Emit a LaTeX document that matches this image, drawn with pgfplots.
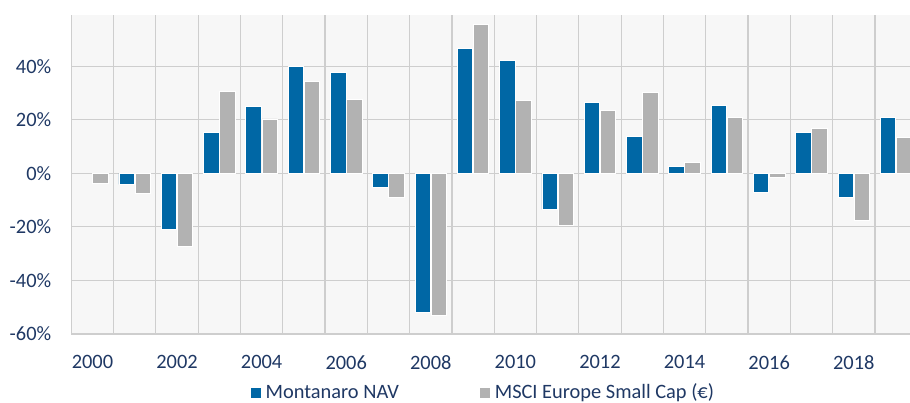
\documentclass[border=0pt]{standalone}
\usepackage{pgfplots}
\pgfplotsset{compat=1.18}
\usepackage{fontspec}
\setmainfont{Carlito}
\definecolor{navblue}{RGB}{0,103,165}
\definecolor{mscigrey}{RGB}{178,178,178}
\definecolor{txt}{RGB}{31,56,100}
\definecolor{bg}{RGB}{247,247,247}
\definecolor{gridc}{RGB}{206,206,206}
\begin{document}
\begin{tikzpicture}
\path[use as bounding box] (0,0) rectangle (455pt,201pt);
\clip (0,0) rectangle (455pt,201pt);
\begin{axis}[
  at={(35.65pt,34pt)}, anchor=south west,
  scale only axis, width=419.35pt, height=159.5pt,
  xmin=1999.5, xmax=2019.33, ymin=-60, ymax=59.1,
  axis background/.style={fill=bg},
  axis x line*=bottom, axis y line*=left,
  axis line style={gridc, line width=0.6pt},
  xtick={2000,2002,...,2018},
  xticklabels={2000,2002,2004,2006,2008,2010,2012,2014,2016,2018},
  minor xtick={1999.5,2000.5,...,2019.5},
  xminorgrids=true,
  ytick={-60,-40,-20,0,20,40},
  yticklabels={-60\%,-40\%,-20\%,0\%,20\%,40\%},
  ymajorgrids=true,
  major tick length=0pt, minor tick length=0pt,
  grid style={gridc, line width=0.6pt},
  minor grid style={gridc, line width=0.6pt},
  tick label style={font=\fontsize{10.2}{12}\selectfont, text=txt},
  yticklabel style={xshift=-6.5pt},
  xticklabel style={yshift=-7.2pt},
  ybar, bar width=0.365,
  legend columns=2,
  legend style={at={(0.492,-0.185)}, anchor=center, draw=none, fill=none,
    font=\fontsize{10.2}{12}\selectfont, text=txt,
    /tikz/every even column/.append style={column sep=38pt}},
  legend image code/.code={\fill[#1] (0pt,-2.75pt) rectangle (5.5pt,2.75pt);},
]
\addplot[fill=navblue, draw=white, line width=0.4pt, bar shift=-0.19] coordinates {
(2001,-4.1) (2002,-20.8) (2003,15.3) (2004,25.0) (2005,39.9) (2006,37.7)
(2007,-5.2) (2008,-52.0) (2009,46.6) (2010,42.1) (2011,-13.5) (2012,26.5)
(2013,13.7) (2014,2.6) (2015,25.4) (2016,-7.1) (2017,15.2) (2018,-9.1) (2019,20.8)};
\addlegendentry{Montanaro NAV}
\addplot[fill=mscigrey, draw=white, line width=0.4pt, bar shift=0.19] coordinates {
(2000,-3.9) (2001,-7.6) (2002,-27.4) (2003,30.6) (2004,20.3) (2005,34.3) (2006,27.5)
(2007,-9.0) (2008,-53.2) (2009,55.7) (2010,27.3) (2011,-19.3) (2012,23.6)
(2013,30.3) (2014,4.2) (2015,20.8) (2016,-1.4) (2017,16.6) (2018,-17.7) (2019,13.3)};
\addlegendentry{MSCI Europe Small Cap (€)}
\end{axis}
\end{tikzpicture}
\end{document}
